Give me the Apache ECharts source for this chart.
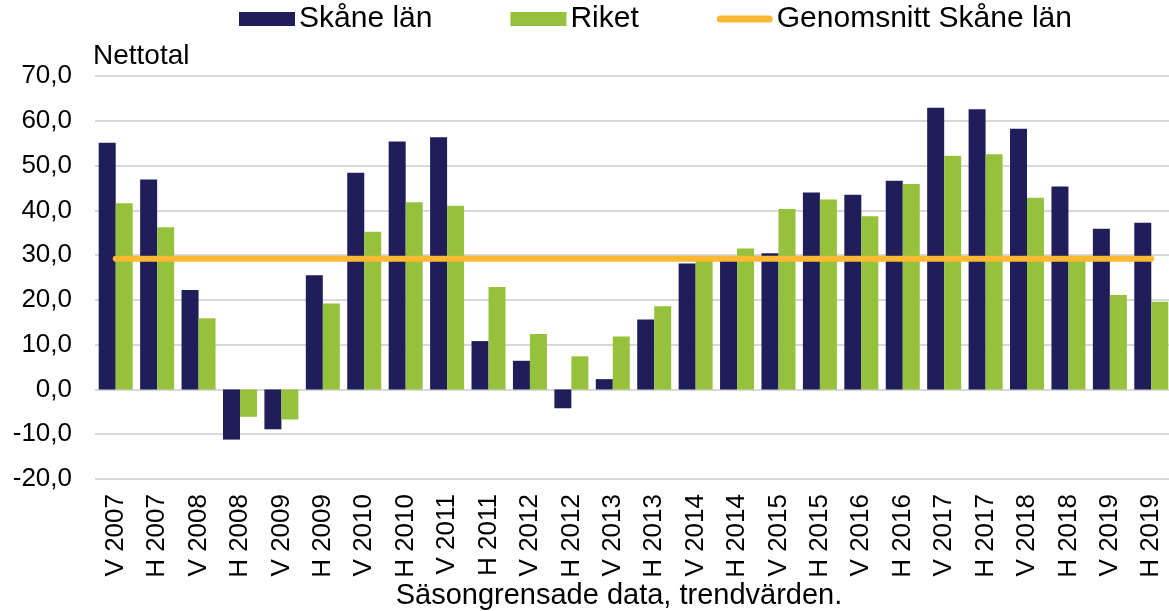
<!DOCTYPE html>
<html>
<head>
<meta charset="utf-8">
<script src="https://cdn.jsdelivr.net/npm/echarts@6/dist/echarts.min.js"></script>
<style>
    html, body { margin: 0; padding: 0; background: #fff; }
    #chart { width: 1169px; height: 611px; }
</style>
</head>
<body>
<div id="chart"></div>
<script>
const categories = [
    'V 2007', 'H 2007', 'V 2008', 'H 2008', 'V 2009', 'H 2009', 'V 2010', 'H 2010',
    'V 2011', 'H 2011', 'V 2012', 'H 2012', 'V 2013', 'H 2013', 'V 2014', 'H 2014',
    'V 2015', 'H 2015', 'V 2016', 'H 2016', 'V 2017', 'H 2017', 'V 2018', 'H 2018',
    'V 2019', 'H 2019'
];

const skane = [
    55.1, 46.9, 22.2, -11.2, -8.9, 25.5, 48.4, 55.4, 56.3, 10.8, 6.4, -4.2, 2.3,
    15.6, 28.1, 29.5, 30.4, 44.0, 43.5, 46.6, 62.9, 62.6, 58.2, 45.3, 35.9, 37.2
];

const riket = [
    41.6, 36.2, 15.9, -6.1, -6.7, 19.2, 35.2, 41.8, 41.0, 22.9, 12.4, 7.4, 11.8,
    18.6, 29.3, 31.5, 40.3, 42.4, 38.7, 45.9, 52.2, 52.5, 42.8, 28.8, 21.1, 19.6
];

const snittSkane = [
    29.2, 29.2, 29.2, 29.2, 29.2, 29.2, 29.2, 29.2, 29.2, 29.2, 29.2, 29.2, 29.2,
    29.2, 29.2, 29.2, 29.2, 29.2, 29.2, 29.2, 29.2, 29.2, 29.2, 29.2, 29.2, 29.2
];

const font = "'Liberation Sans', Arial, sans-serif";

// thin rounded bar in the middle of the legend box, with dots at the corners to keep the box
const lineIcon = 'path://M0,0 L0.01,0 L0,0.01 Z M56,14 L55.99,14 L56,13.99 Z ' +
    'M3.5,3.5 L52.5,3.5 A3.5,3.5 0 0 1 52.5,10.5 L3.5,10.5 A3.5,3.5 0 0 1 3.5,3.5 Z';

let chart = echarts.init(document.getElementById('chart'));

chart.setOption({
    animation: false,
    textStyle: { fontFamily: font, color: '#000' },
    legend: {
        top: 4,
        left: 239,
        padding: 0,
        itemWidth: 56,
        itemHeight: 14,
        itemGap: 78,
        textStyle: { fontSize: 30, color: '#000', padding: [0, 0, 0, -1] },
        data: [
            { name: 'Skåne län', icon: 'rect' },
            { name: 'Riket', icon: 'rect' },
            { name: 'Genomsnitt Skåne län', icon: lineIcon }
        ]
    },
    grid: {
        left: 95,
        top: 76,
        width: 1077,
        height: 403,
        outerBoundsMode: 'none',
        containLabel: false
    },
    xAxis: {
        type: 'category',
        data: categories,
        axisLine: { show: false, onZero: false },
        axisTick: { show: false },
        axisLabel: {
            rotate: 90,
            margin: 15,
            fontSize: 26,
            color: '#000',
            interval: 0
        },
        name: 'Säsongrensade data, trendvärden.',
        nameLocation: 'middle',
        nameGap: 117,
        nameMoveOverlap: false,
        nameTextStyle: {
            fontSize: 29,
            color: '#000',
            verticalAlign: 'middle',
            padding: [0, 29, 0, 0]
        }
    },
    yAxis: {
        type: 'value',
        min: -20,
        max: 70,
        interval: 10,
        name: 'Nettotal',
        nameLocation: 'end',
        nameGap: 6,
        nameTextStyle: { fontSize: 28, color: '#000', align: 'left', padding: [0, 0, 0, -2] },
        axisLine: { show: false },
        axisTick: { show: false },
        axisLabel: {
            fontSize: 26,
            color: '#000',
            margin: 23,
            formatter: v => v.toFixed(1).replace('.', ',')
        },
        splitLine: { lineStyle: { color: '#d9d9d9', width: 2 } }
    },
    series: [
        {
            name: 'Skåne län',
            type: 'bar',
            data: skane,
            barWidth: 17,
            barGap: '0%',
            itemStyle: { color: '#201d5b' }
        },
        {
            name: 'Riket',
            type: 'bar',
            data: riket,
            barWidth: 17,
            itemStyle: { color: '#95c13d' }
        },
        {
            name: 'Genomsnitt Skåne län',
            type: 'line',
            data: snittSkane,
            symbol: 'none',
            z: 5,
            lineStyle: { color: '#fbb933', width: 6, cap: 'round' },
            itemStyle: { color: '#fbb933' }
        }
    ]
});
</script>
</body>
</html>
